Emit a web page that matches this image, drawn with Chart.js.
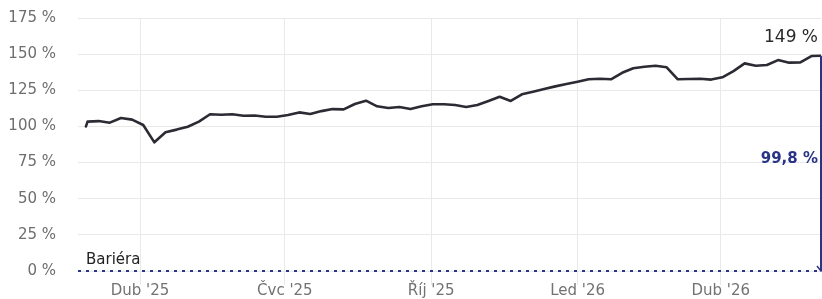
<!DOCTYPE html>
<html><head><meta charset="utf-8">
<script src="https://cdn.jsdelivr.net/npm/chart.js@4/dist/chart.umd.min.js"></script>
<style>html,body{margin:0;padding:0;background:#fff;}#wrap{width:822px;height:299px;position:relative;}</style>
</head><body><div id="wrap"><canvas id="c"></canvas></div>
<script>
const dates = ["2025-02-26","2025-02-27","2025-03-06","2025-03-13","2025-03-20","2025-03-27","2025-04-03","2025-04-10","2025-04-17","2025-04-24",
"2025-05-01","2025-05-08","2025-05-15","2025-05-22","2025-05-29","2025-06-05","2025-06-12","2025-06-19","2025-06-26",
"2025-07-03","2025-07-10","2025-07-17","2025-07-24","2025-07-31","2025-08-07","2025-08-14","2025-08-21","2025-08-28",
"2025-09-04","2025-09-11","2025-09-18","2025-09-25","2025-10-02","2025-10-09","2025-10-16","2025-10-23","2025-10-30",
"2025-11-06","2025-11-13","2025-11-20","2025-11-27","2025-12-04","2025-12-11","2025-12-18","2025-12-25",
"2026-01-01","2026-01-08","2026-01-15","2026-01-22","2026-01-29","2026-02-05","2026-02-12","2026-02-19","2026-02-26",
"2026-03-05","2026-03-12","2026-03-19","2026-03-26","2026-04-02","2026-04-09","2026-04-16","2026-04-23","2026-04-30",
"2026-05-07","2026-05-14","2026-05-21","2026-05-28","2026-06-03"];
const values = [100,103.3,103.7,102.6,105.8,104.7,101.0,89.0,96.0,97.8,
99.8,103.3,108.4,108.1,108.4,107.4,107.6,106.7,106.7,
107.9,109.7,108.6,110.6,112.0,111.8,115.5,117.8,113.9,
112.7,113.4,112.0,113.9,115.3,115.3,114.8,113.4,114.8,
117.6,120.5,117.6,122.2,124.0,125.9,127.7,129.3,
130.9,132.6,133.0,132.6,137.1,140.2,141.3,142.0,140.9,
132.6,132.8,133.0,132.4,134.0,138.3,143.6,142.0,142.5,
145.9,144.1,144.3,148.7,148.9];
const tickDates = ["2025-04-01","2025-07-01","2025-10-01","2026-01-01","2026-04-01"];
const tickLabels = ["Dub '25","Čvc '25","Říj '25","Led '26","Dub '26"];
const yTicks = [0,25,50,75,100,125,150,175];
const barrierLevel = 0;
const barrierLabel = "Bariéra";
const lastLabel = "149 %";
const distanceLabel = "99,8 %";
const axisStartDate = "2025-02-21";

const NAVY = '#2a3487';
const DAY = 86400000;
const REF = Date.UTC(2025,3,1);
function dayOf(s){const p=s.split('-').map(Number);return (Date.UTC(p[0],p[1]-1,p[2])-REF)/DAY;}

const overlay = {
  id:'overlay',
  afterDatasetsDraw(chart){
    const ctx = chart.ctx, a = chart.chartArea, x = chart.scales.x, y = chart.scales.y;
    const lastX = x.getPixelForValue(dayOf(dates[dates.length-1]));
    const lastY = y.getPixelForValue(values[values.length-1]);
    const y0 = y.getPixelForValue(barrierLevel);
    ctx.save();
    ctx.strokeStyle = NAVY; ctx.lineWidth = 2;
    ctx.setLineDash([3,5]);
    ctx.beginPath(); ctx.moveTo(a.left, y0); ctx.lineTo(a.right, y0); ctx.stroke();
    ctx.setLineDash([]);
    ctx.beginPath(); ctx.moveTo(lastX, lastY); ctx.lineTo(lastX, y0); ctx.stroke();
    ctx.lineWidth = 1.5;
    ctx.beginPath(); ctx.moveTo(lastX-4, y0-5); ctx.lineTo(lastX, y0); ctx.lineTo(lastX+4, y0-5); ctx.stroke();
    ctx.textAlign = 'right'; ctx.textBaseline = 'alphabetic';
    ctx.font = '17px "DejaVu Sans"'; ctx.fillStyle = '#2a2a2a';
    ctx.fillText(lastLabel, a.right - 3, lastY - 14);
    ctx.font = 'bold 15px "DejaVu Sans"'; ctx.fillStyle = NAVY;
    ctx.fillText(distanceLabel, a.right - 3, (lastY + y0)/2);
    ctx.textAlign = 'left';
    ctx.font = '15px "DejaVu Sans"'; ctx.fillStyle = '#222';
    ctx.fillText(barrierLabel, a.left + 8, y0 - 7);
    ctx.restore();
  }
};

Chart.defaults.font.family = '"DejaVu Sans"';
new Chart(document.getElementById('c'), {
  type:'line',
  data:{datasets:[{
    data: dates.map((d,i)=>({x:dayOf(d), y:values[i]})),
    borderColor:'#2b2b33', borderWidth:2.6, pointRadius:0, tension:0,
    borderJoinStyle:'round', borderCapStyle:'round', fill:false
  }]},
  options:{
    responsive:true, maintainAspectRatio:false, animation:false, devicePixelRatio:1,
    layout:{padding:{top:18, right:1, bottom:0, left:0}},
    plugins:{legend:{display:false}, tooltip:{enabled:false}},
    scales:{
      x:{type:'linear', min:dayOf(axisStartDate), max:dayOf(dates[dates.length-1]),
        afterBuildTicks:s=>{s.ticks = tickDates.map(d=>({value:dayOf(d)}));},
        ticks:{callback:(v)=>{const i=tickDates.findIndex(d=>dayOf(d)===v);return i>=0?tickLabels[i]:'';},
          padding:-3, color:'#727272', font:{size:15}, maxRotation:0, autoSkip:false},
        grid:{color:'#e9e9e9', tickLength:14, drawTicks:true},
        border:{display:false},
        afterFit:s=>{s.height=28;}
      },
      y:{min:0, max:175,
        afterBuildTicks:s=>{s.ticks = yTicks.map(v=>({value:v}));},
        ticks:{callback:v=>v+' %', padding:0, color:'#6e6e6e', font:{size:15}},
        grid:{color:'#e9e9e9', drawTicks:true, tickLength:22, tickColor:'rgba(0,0,0,0)'},
        border:{display:false},
        afterFit:s=>{s.width=78;}
      }
    }
  },
  plugins:[overlay]
});
</script></body></html>
